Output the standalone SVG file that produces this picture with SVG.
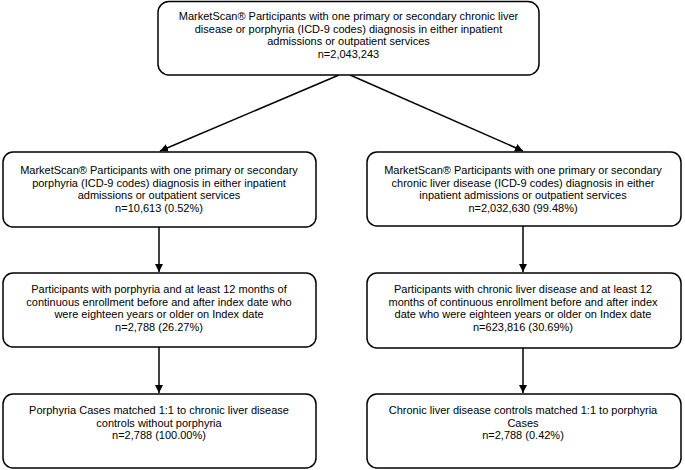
<svg xmlns="http://www.w3.org/2000/svg" width="685" height="470" viewBox="0 0 685 470">
<style>
.box{fill:#fff;stroke:#000;stroke-width:1.5}
text{font-family:"Liberation Sans",Arial,sans-serif;font-size:11px;fill:#000;text-anchor:middle}
.c{stroke:#000;stroke-width:1.5;fill:none;marker-end:url(#ah)}
</style>
<defs>
<marker id="ah" viewBox="0 0 10 10" refX="10" refY="5" markerWidth="8" markerHeight="8" markerUnits="userSpaceOnUse" orient="auto"><path d="M0,0 L10,5 L0,10 z" fill="#000"/></marker>
</defs>
<rect width="685" height="470" fill="#fff"/>
<g id="connectors">
<line class="c" x1="339" y1="75" x2="160" y2="151"/>
<line class="c" x1="350" y1="75" x2="523" y2="151"/>
<line class="c" x1="159" y1="227" x2="159" y2="272"/>
<line class="c" x1="523" y1="226" x2="523" y2="272"/>
<line class="c" x1="159" y1="347" x2="159" y2="393"/>
<line class="c" x1="523" y1="348" x2="523" y2="393"/>
</g>
<g id="n0">
<rect class="box" x="158" y="1.5" width="381" height="73.5" rx="11"/>
<text x="348.5" y="20">MarketScan® Participants with one primary or secondary chronic liver</text>
<text x="348.5" y="33">disease or porphyria (ICD-9 codes) diagnosis in either inpatient</text>
<text x="348.5" y="45">admissions or outpatient services</text>
<text x="348.5" y="58">n=2,043,243</text>
</g>
<g id="n1">
<rect class="box" x="3" y="152" width="313" height="75" rx="10"/>
<text x="159" y="174">MarketScan® Participants with one primary or secondary</text>
<text x="159" y="187">porphyria (ICD-9 codes) diagnosis in either inpatient</text>
<text x="159" y="199">admissions or outpatient services</text>
<text x="159" y="212">n=10,613 (0.52%)</text>
</g>
<g id="n2">
<rect class="box" x="367" y="152" width="314" height="74" rx="10"/>
<text x="523" y="174">MarketScan® Participants with one primary or secondary</text>
<text x="523" y="187">chronic liver disease (ICD-9 codes) diagnosis in either</text>
<text x="523" y="199">inpatient admissions or outpatient services</text>
<text x="523" y="212">n=2,032,630 (99.48%)</text>
</g>
<g id="n3">
<rect class="box" x="3" y="273" width="313" height="74" rx="10"/>
<text x="159" y="293">Participants with porphyria and at least 12 months of</text>
<text x="159" y="306">continuous enrollment before and after index date who</text>
<text x="159" y="318">were eighteen years or older on Index date</text>
<text x="159" y="331">n=2,788 (26.27%)</text>
</g>
<g id="n4">
<rect class="box" x="367" y="273" width="314" height="75" rx="10"/>
<text x="523" y="293">Participants with chronic liver disease and at least 12</text>
<text x="523" y="306">months of continuous enrollment before and after index</text>
<text x="523" y="318">date who were eighteen years or older on Index date</text>
<text x="523" y="331">n=623,816 (30.69%)</text>
</g>
<g id="n5">
<rect class="box" x="3" y="394" width="313" height="74" rx="10"/>
<text x="159" y="414">Porphyria Cases matched 1:1 to chronic liver disease</text>
<text x="159" y="427">controls without porphyria</text>
<text x="159" y="439">n=2,788 (100.00%)</text>
</g>
<g id="n6">
<rect class="box" x="367" y="394" width="314" height="74" rx="10"/>
<text x="523" y="414">Chronic liver disease controls matched 1:1 to porphyria</text>
<text x="523" y="427">Cases</text>
<text x="523" y="439">n=2,788 (0.42%)</text>
</g>
</svg>
